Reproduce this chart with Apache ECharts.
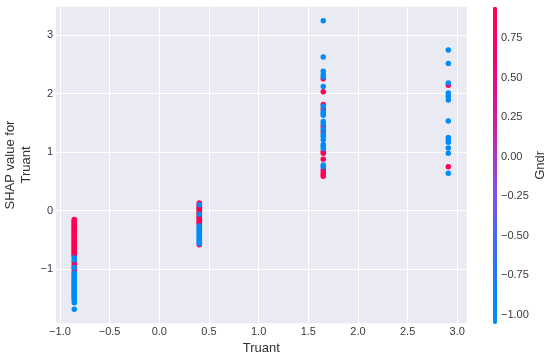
<!DOCTYPE html>
<html>
<head>
<meta charset="utf-8">
<script src="https://cdn.jsdelivr.net/npm/echarts@6/dist/echarts.min.js"></script>
<style>html,body{margin:0;padding:0;background:#fff;}#c{width:550px;height:361px;}</style>
</head>
<body>
<div id="c"></div>
<script>
// Truant feature levels (x positions of the four columns)
const truantLevels = [-0.856, 0.403, 1.651, 2.91];
// Gndr values for the two groups
const gndrHigh = 0.95;
const gndrLow = -1.057;
// SHAP values, per Truant level, split by Gndr group
const shapHigh1 = [-0.15,-0.17,-0.19,-0.21,-0.23,-0.25,-0.27,-0.29,-0.31,-0.33,-0.35,-0.37,-0.39,-0.41,-0.43,-0.45,-0.47,-0.49,-0.51,-0.53,-0.55,-0.57,-0.59,-0.61,-0.63,-0.65,-0.67,-0.69,-0.71,-0.73,-0.75,-0.77,-0.86,-0.9,-0.94,-0.98,-1.03];
const shapLow1 = [-0.8,-0.84,-0.97,-1.06,-1.08,-1.1,-1.12,-1.14,-1.16,-1.18,-1.2,-1.22,-1.24,-1.26,-1.28,-1.3,-1.32,-1.34,-1.36,-1.38,-1.4,-1.42,-1.44,-1.46,-1.48,-1.5,-1.53,-1.57,-1.68];
const shapHigh2 = [0.13,0.11,0.08,0.06,0.04,0.02,0.0,-0.02,-0.04,-0.06,-0.09,-0.11,-0.13,-0.15,-0.17,-0.19,-0.21,-0.23,-0.58];
const shapLow2 = [0.1,-0.06,-0.26,-0.28,-0.3,-0.32,-0.34,-0.36,-0.38,-0.4,-0.42,-0.44,-0.46,-0.48,-0.5,-0.52,-0.54,-0.56];
const shapHigh3 = [2.25,2.03,1.81,1.73,1.44,1.35,1.01,0.98,0.88,0.7,0.65,0.61,0.59];
const shapLow3 = [3.24,2.62,2.38,2.32,2.28,2.12,1.78,1.69,1.66,1.63,1.52,1.48,1.39,1.31,1.27,1.21,1.13,1.1,1.06,0.78,0.75];
const shapHigh4 = [2.14,0.75];
const shapLow4 = [2.74,2.51,2.18,2.01,1.95,1.89,1.53,1.25,1.21,1.17,1.07,0.98,0.64];
// tick labels
const xTicks = [-1.0,-0.5,0.0,0.5,1.0,1.5,2.0,2.5,3.0];
const yTicks = [-1,0,1,2,3];
const cbTicks = [-1.0,-0.75,-0.5,-0.25,0.0,0.25,0.5,0.75];

const groups = [
  [shapHigh1, shapLow1], [shapHigh2, shapLow2], [shapHigh3, shapLow3], [shapHigh4, shapLow4]
];
const points = [];
groups.forEach(function (g, i) {
  g[0].forEach(function (v) { points.push([truantLevels[i], v, gndrHigh]); });
  g[1].forEach(function (v) { points.push([truantLevels[i], v, gndrLow]); });
});

const minus = function (s) { return s.replace('-', '\u2212'); };
const font = 'Liberation Sans, Arial, sans-serif';
const labelColor = '#3a3a3a';

const chart = echarts.init(document.getElementById('c'), null, {renderer: 'canvas'});
chart.setOption({
  animation: false,
  backgroundColor: '#ffffff',
  grid: [
    {left: 56, right: 83.3, top: 6.7, bottom: 37.7, show: true, backgroundColor: '#eaeaf2', borderWidth: 0, outerBoundsMode: 'none', containLabel: false},
    {left: 493, width: 4, top: 6.7, bottom: 37, outerBoundsMode: 'none', containLabel: false}
  ],
  xAxis: [{
    type: 'value', gridIndex: 0, min: -1.04, max: 3.095,
    name: 'Truant', nameLocation: 'middle', nameGap: 18.5, nameMoveOverlap: false,
    nameTextStyle: {fontFamily: font, fontSize: 13, color: '#333'},
    axisLine: {show: false},
    axisTick: {show: false, customValues: xTicks},
    axisLabel: {customValues: xTicks, margin: 3, fontFamily: font, fontSize: 11, color: labelColor,
      formatter: function (v) { return minus(v.toFixed(1)); }},
    splitLine: {show: true, lineStyle: {color: '#ffffff', width: 1}}
  }, {
    type: 'value', gridIndex: 1, show: false
  }],
  yAxis: [{
    type: 'value', gridIndex: 0, min: -1.92, max: 3.48,
    name: 'SHAP value for\nTruant', nameLocation: 'middle', nameGap: 21.5, nameMoveOverlap: false,
    nameTextStyle: {fontFamily: font, fontSize: 13, color: '#333', lineHeight: 16},
    axisLine: {show: false},
    axisTick: {show: false, customValues: yTicks},
    axisLabel: {customValues: yTicks, margin: 3, fontFamily: font, fontSize: 11, color: labelColor,
      formatter: function (v) { return minus(String(v)); }},
    splitLine: {show: true, lineStyle: {color: '#ffffff', width: 1}}
  }, {
    type: 'value', gridIndex: 1, position: 'right', min: gndrLow, max: gndrHigh,
    name: 'Gndr', nameLocation: 'middle', nameGap: 37, nameRotate: 90, nameMoveOverlap: false,
    nameTextStyle: {fontFamily: font, fontSize: 13, color: '#333'},
    axisLine: {show: false},
    axisTick: {show: false, customValues: cbTicks},
    axisLabel: {customValues: cbTicks, margin: 4, fontFamily: font, fontSize: 11, color: labelColor,
      formatter: function (v) { return minus(v.toFixed(2)); }},
    splitLine: {show: false}
  }],
  visualMap: {
    type: 'continuous', min: gndrLow, max: gndrHigh, dimension: 2, seriesIndex: 0,
    left: 493, top: 6.7, itemWidth: 4, itemHeight: 317.3, padding: 0,
    calculable: false, text: null, orient: 'vertical',
    inRange: {color: ['#008bfb', '#1a7cf7', '#4a68f2', '#8a4fe0', '#b82cbc', '#dc0f98', '#f20474', '#ff0052']}
  },
  series: [{
    type: 'scatter', xAxisIndex: 0, yAxisIndex: 0, data: points,
    symbolSize: 5.5, itemStyle: {opacity: 1}
  }, {
    type: 'scatter', xAxisIndex: 1, yAxisIndex: 1, data: [], silent: true
  }]
});
</script>
</body>
</html>
